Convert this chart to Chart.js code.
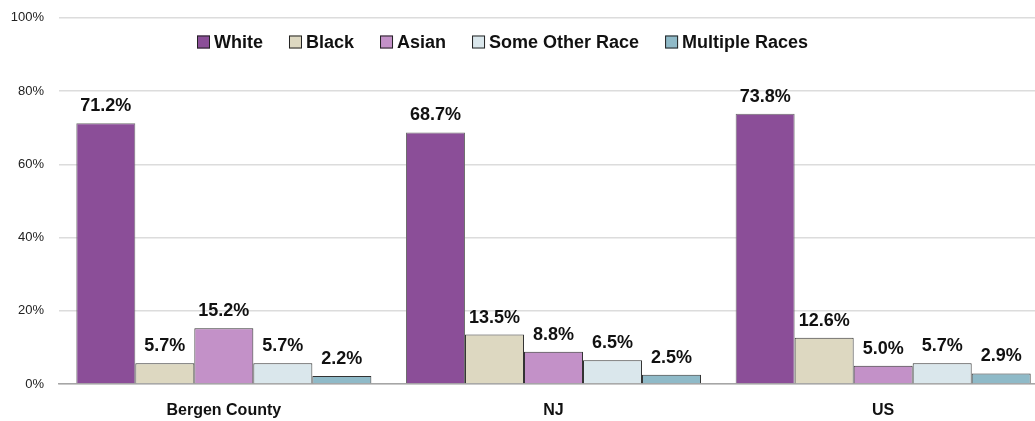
<!DOCTYPE html>
<html>
<head>
<meta charset="utf-8">
<script src="https://cdn.jsdelivr.net/npm/chart.js@4/dist/chart.umd.min.js"></script>
<style>
  html, body { margin: 0; padding: 0; background: #fff; overflow: hidden; }
  #wrap { width: 1035px; height: 421px; overflow: hidden; }
  #chart { display: block; margin-top: -5px; }
</style>
</head>
<body>
<div id="wrap"><canvas id="chart" width="1048" height="426"></canvas></div>
<script>
const categories = ['Bergen County', 'NJ', 'US'];
const seriesNames = ['White', 'Black', 'Asian', 'Some Other Race', 'Multiple Races'];
const white    = [71.2, 68.7, 73.8];
const black    = [5.7, 13.5, 12.6];
const asian    = [15.2, 8.8, 5.0];
const other    = [5.7, 6.5, 5.7];
const multiple = [2.2, 2.5, 2.9];
const yTicks = [0, 20, 40, 60, 80, 100];

const colors = ['#8b4e98', '#ddd8c1', '#c391c8', '#dae7ec', '#8fbac8'];
const values = [white, black, asian, other, multiple];
const FONT = 'Liberation Sans, Arial, sans-serif';

// value labels above bars
const barLabels = {
    id: 'barLabels',
    afterDatasetsDraw(chart) {
        const ctx = chart.ctx;
        ctx.save();
        ctx.font = 'bold 18px ' + FONT;
        ctx.fillStyle = '#111';
        ctx.textAlign = 'center';
        ctx.textBaseline = 'alphabetic';
        chart.data.datasets.forEach((ds, i) => {
            chart.getDatasetMeta(i).data.forEach((bar, j) => {
                ctx.fillText(ds.data[j].toFixed(1) + '%', bar.x, bar.y - 12);
            });
        });
        ctx.restore();
    }
};

// legend drawn inside the plot area
const innerLegend = {
    id: 'innerLegend',
    afterDraw(chart) {
        const ctx = chart.ctx;
        ctx.save();
        ctx.font = 'bold 18px ' + FONT;
        ctx.textBaseline = 'middle';
        const box = 13, gapBox = 4, gapItem = 26;
        let x = 197;
        const y = 47; // canvas is shifted up 5px
        chart.data.datasets.forEach((ds, i) => {
            ctx.fillStyle = ds.backgroundColor;
            ctx.fillRect(x, y - box / 2, box, box);
            ctx.strokeStyle = '#222';
            ctx.lineWidth = 1;
            ctx.strokeRect(x + 0.5, y - box / 2 + 0.5, box - 1, box - 1);
            ctx.fillStyle = '#111';
            ctx.fillText(ds.label, x + box + gapBox, y + 1);
            x += box + gapBox + ctx.measureText(ds.label).width + gapItem;
        });
        ctx.restore();
    }
};

new Chart(document.getElementById('chart'), {
    type: 'bar',
    data: {
        labels: categories,
        datasets: seriesNames.map((name, i) => ({
            label: name,
            data: values[i],
            backgroundColor: colors[i],
            borderColor: i === 0 ? '#6e6e6e' : '#333',
            borderWidth: 1,
            borderSkipped: 'bottom',
            categoryPercentage: 0.895,
            barPercentage: 1
        }))
    },
    options: {
        responsive: false,
        animation: false,
        layout: { padding: { top: 4, right: 0, left: 0, bottom: 0 } },
        plugins: {
            legend: { display: false },
            tooltip: { enabled: false }
        },
        scales: {
            x: {
                afterFit(axis) { axis.height = 37; },
                grid: { display: false, drawTicks: false },
                border: { color: '#a6a6a6', width: 1.5 },
                ticks: { color: '#111', font: { family: FONT, size: 16, weight: 'bold' }, padding: 17 }
            },
            y: {
                min: 0,
                max: 100,
                afterFit(axis) { axis.width = 59; },
                afterBuildTicks(axis) { axis.ticks = yTicks.map(v => ({ value: v })); },
                grid: { color: '#dcdcdc', drawTicks: false, lineWidth: 1.5 },
                border: { display: false },
                ticks: {
                    color: '#222',
                    font: { family: FONT, size: 13 },
                    padding: 15,
                    callback: v => v + '%'
                }
            }
        }
    },
    plugins: [barLabels, innerLegend]
});
</script>
</body>
</html>
